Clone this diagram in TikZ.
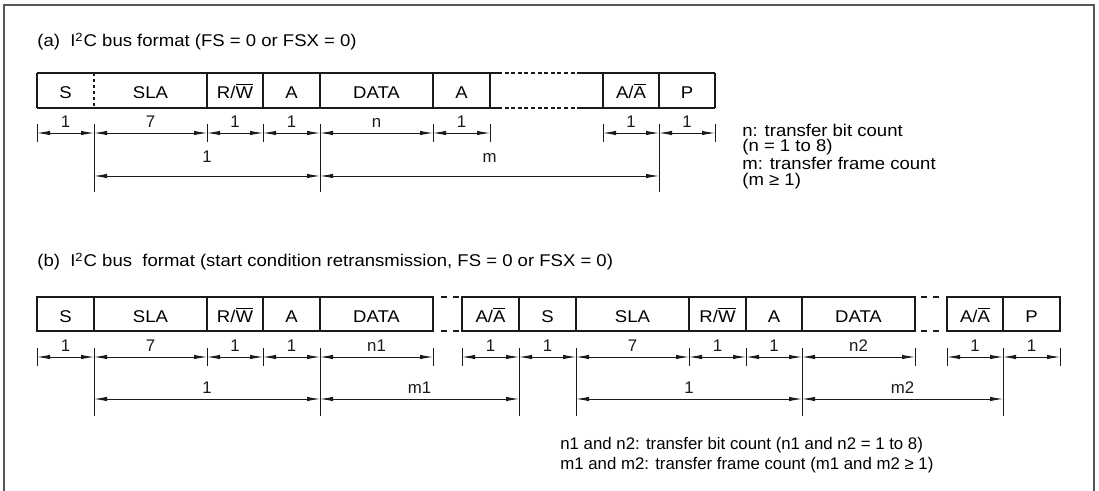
\documentclass[tikz,border=0pt]{standalone}
\usepackage{fontspec}
\setmainfont{Liberation Sans}[FakeStretch=1.09]
\newfontfamily\plainsans{Liberation Sans}
\usepackage{tikz}
\usetikzlibrary{arrows.meta}
\definecolor{ink}{HTML}{1A1A1A}
\definecolor{rim}{HTML}{555555}
\newcommand{\rwbar}{R/$\overline{\mbox{W}}$}
\newcommand{\ackbar}{A/$\overline{\mbox{A}}$}

\begin{document}
\begin{tikzpicture}[x=0.5pt,y=-0.5pt,font=\fontsize{8.5}{10}\selectfont,inner sep=0pt,
  field/.style={ink,line width=0.55pt},
  ext/.style={ink,line width=0.4pt},
  dim/.style={ink,line width=0.4pt,{Latex[length=6.5pt,width=2.2pt]}-{Latex[length=6.5pt,width=2.2pt]}},
  dimlbl/.style={above=2.5pt,text=ink,font=\plainsans\fontsize{8.4}{10}\selectfont},
  gapdot/.style={ink,line width=0.55pt,dash pattern=on 2pt off 1.3pt},
  gapdash/.style={ink,line width=0.55pt,dash pattern=on 3pt off 3pt}]
  \useasboundingbox(0,0)rectangle(1099,491);
  \draw[rim,line width=0.9pt](4,491)--(4,5)--(1094,5)--(1094,491);
  \node[anchor=base west](ttla)at(37,47){(a)\ \ I\textsuperscript{2}C bus format (FS = 0 or FSX = 0)};
  \draw[field](37,73)--(498,73) (580,73)--(715,73) (37,108)--(498,108) (580,108)--(715,108);
  \draw[gapdot](498,73)--(580,73) (498,108)--(580,108);
  \foreach \x in {37,207,263,320,433,490,603,659,715}\draw[field](\x,73)--(\x,108);
  \draw[field,dash pattern=on 1.5pt off 1.5pt](94,73)--(94,108);
  \foreach \xa/\xb/\t/\nm in {37/94/S/S,94/207/SLA/SLA,207/263/\rwbar/RW,263/320/A/A,320/433/DATA/D,433/490/A/Ack,603/659/\ackbar/AA,659/715/P/P}
    \node[anchor=base](a\nm)at({(\xa+\xb)/2},99){\t};
  \foreach \n/\x in {0/37,1/94,2/207,3/263,4/320,5/433,6/490,7/603,8/659,9/715}\coordinate(ta\n)at(\x,133);
  \foreach \n in {0,2,3,5,6,7,9}\draw[ext]([yshift=4.5pt]ta\n)--([yshift=-4.5pt]ta\n);
  \foreach \n in {1,4,8}{\coordinate(ua\n)at(ta\n|-0,176);\draw[ext]([yshift=4.5pt]ta\n)--([yshift=-8pt]ua\n);}
  \foreach \a/\b/\t in {0/1/1,1/2/7,2/3/1,3/4/1,4/5/n,5/6/1,7/8/1,8/9/1}
    \draw[dim](ta\a)--node[dimlbl](la\a){\t}(ta\b);
  \draw[dim](ua1)--node[dimlbl,above=4pt](lua1){1}(ua4);
  \draw[dim](ua4)--node[dimlbl,above=4pt](lua4){m}(ua8);
  \node[anchor=base west](nota1)at(742,137){n: transfer bit count};
  \node[anchor=base west](nota2)at(742,152){(n = 1 to 8)};
  \node[anchor=base west](nota3)at(742,170){m: transfer frame count};
  \node[anchor=base west](nota4)at(742,186){(m ≥ 1)};
  \node[anchor=base west](ttlb)at(37,267){(b)\ \ I\textsuperscript{2}C bus\ \ format (start condition retransmission, FS = 0 or FSX = 0)};
  \foreach \xa/\xb/\t/\nm in {37/94/S/S1,94/207/SLA/SLA1,207/263/\rwbar/RW1,263/320/A/A1,320/433/DATA/D1,462/519/\ackbar/AA1,519/576/S/S2,576/689/SLA/SLA2,689/746/\rwbar/RW2,746/802/A/A2,802/915/DATA/D2,947/1003/\ackbar/AA2,1003/1060/P/P2}
    {\draw[field](\xa,297)rectangle(\xb,331);\node[anchor=base](b\nm)at({(\xa+\xb)/2},323){\t};}
  \draw[gapdash](441,297)--(459,297) (441,331)--(459,331) (921,297)--(940,297) (921,331)--(940,331);
  \foreach \n/\x in {0/37,1/94,2/207,3/263,4/320,5/433,6/462,7/519,8/576,9/689,10/746,11/802,12/915,13/947,14/1003,15/1060}\coordinate(tb\n)at(\x,357);
  \foreach \n in {0,2,3,5,6,9,10,12,13,15}\draw[ext]([yshift=4.5pt]tb\n)--([yshift=-4.5pt]tb\n);
  \foreach \n in {1,4,7,8,11,14}{\coordinate(ub\n)at(tb\n|-0,399);\draw[ext]([yshift=4.5pt]tb\n)--([yshift=-8.5pt]ub\n);}
  \foreach \a/\b/\t in {0/1/1,1/2/7,2/3/1,3/4/1,4/5/n1,6/7/1,7/8/1,8/9/7,9/10/1,10/11/1,11/12/n2,13/14/1,14/15/1}
    \draw[dim](tb\a)--node[dimlbl](lb\a){\t}(tb\b);
  \foreach \a/\b/\t in {1/4/1,4/7/m1,8/11/1,11/14/m2}
    \draw[dim](ub\a)--node[dimlbl](lub\a){\t}(ub\b);
  \begin{scope}[font=\plainsans\fontsize{8.4}{10}\selectfont]
    \node[anchor=base west](notb1)at(560,450){n1 and n2: transfer bit count (n1 and n2 = 1 to 8)};
    \node[anchor=base west](notb2)at(560,470){m1 and m2: transfer frame count (m1 and m2 ≥ 1)};
  \end{scope}
\end{tikzpicture}
\end{document}
